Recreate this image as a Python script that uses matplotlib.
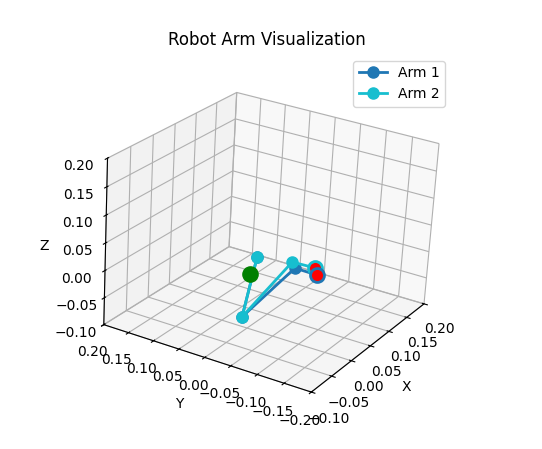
import matplotlib
matplotlib.use('Agg')
import matplotlib.pyplot as plt

# joint positions of the two arms
arm1_x = [0.050, -0.109, 0.050, 0.049]
arm1_y = [0.026, -0.073, -0.048, -0.091]
arm1_z = [0.0, 0.0, 0.0, 0.0]
arm2_x = [0.050, -0.109, 0.064, 0.066]
arm2_y = [0.026, -0.073, -0.032, -0.075]
arm2_z = [0.0, 0.0, 0.0, 0.0]
target1 = [0.049, -0.091, 0.0]
target2 = [0.066, -0.075, 0.0]
base = [0.0, 0.0, 0.0]

fig = plt.figure(figsize=(5.42, 4.49), dpi=100)
ax = fig.add_subplot(111, projection='3d', computed_zorder=False)
ax.set_position([81.9/542, 25.12/449, 370.06/542, 370.06/449])
ax.plot(arm1_x, arm1_y, arm1_z, 'o-', color='tab:blue', lw=2, ms=8, label='Arm 1', zorder=2)
ax.plot(arm2_x, arm2_y, arm2_z, 'o-', color='tab:cyan', lw=2, ms=8, label='Arm 2', zorder=3)
ax.scatter(*target2, c='red', edgecolors='tab:cyan', linewidths=2, s=100, depthshade=False, zorder=4)
ax.scatter(*target1, c='red', edgecolors='tab:blue', linewidths=2, s=100, depthshade=False, zorder=5)
ax.scatter(*base, c='green', s=120, depthshade=False, zorder=6)
ax.set_xlim(-0.1, 0.2)
ax.set_ylim(-0.2, 0.2)
ax.set_zlim(-0.1, 0.2)
ax.set_xlabel('X')
ax.set_ylabel('Y')
ax.set_zlabel('Z')
ax.set_title('Robot Arm Visualization')
ax.view_init(elev=23.7, azim=-150.82, roll=-3.37)
ax.legend()
fig.savefig('out.png')
